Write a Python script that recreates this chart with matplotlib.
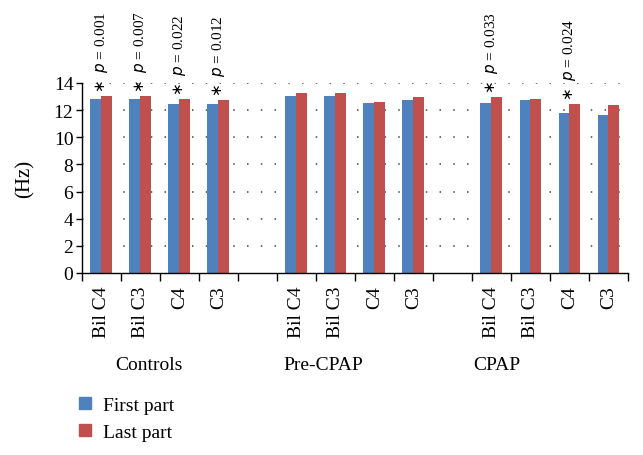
import matplotlib
matplotlib.use("Agg")
import matplotlib.pyplot as plt
from matplotlib.lines import Line2D
import matplotlib.transforms as mtransforms

plt.rcParams['font.family'] = ['Liberation Serif', 'DejaVu Serif']

groups = ["Controls", "Pre-CPAP", "CPAP"]
channels = ["Bil C4", "Bil C3", "C4", "C3"]
first_part = [12.85, 12.85, 12.45, 12.45,
              13.07, 13.07, 12.5, 12.75,
              12.55, 12.75, 11.8, 11.65]
last_part = [13.05, 13.05, 12.8, 12.75,
             13.25, 13.25, 12.6, 13.0,
             12.95, 12.8, 12.45, 12.35]
p_labels = ["0.001", "0.007", "0.022", "0.012",
            None, None, None, None,
            "0.033", None, "0.024", None]
yticks = [0, 2, 4, 6, 8, 10, 12, 14]

blue = "#4F81BD"
red = "#C0504D"

fig = plt.figure(figsize=(6.43, 4.56), dpi=100)
ax = fig.add_axes([81.7/643, 1-274/456, (628-81.7)/643, (274-84)/456])

# slot positions (one empty slot between groups)
pos = []
labels = []
for g in range(len(groups)):
    for c in range(len(channels)):
        pos.append(g * (len(channels) + 1) + c)
        labels.append(channels[c])
nslots = len(groups) * (len(channels) + 1) - 1

# dotted gridlines (not at zero)
for yv in yticks[1:]:
    ax.axhline(yv, linestyle=(0, (1, 8)), color='#444444', linewidth=1.1, zorder=0)

w = 0.28
ax.bar([p - w/2 for p in pos], first_part, width=w, color=blue, zorder=3)
ax.bar([p + w/2 for p in pos], last_part, width=w, color=red, zorder=3)

for p, v1, v2, lab in zip(pos, first_part, last_part, p_labels):
    if lab is None:
        continue
    ax.text(p, max(v1, v2) + 0.3, "$\\ast$  $\\mathit{p}$ = " + lab,
            rotation=90, ha='center', va='bottom', fontsize=11, clip_on=False)

ax.set_xlim(-0.5, nslots - 0.5)
ax.set_ylim(0, 14)
ax.set_yticks(yticks)
ax.tick_params(axis='y', labelsize=14, length=4, pad=2, direction='out', width=1)

ax.set_xticks(pos)
ax.set_xticklabels(labels, rotation=90, fontsize=14, va='top')
ax.tick_params(axis='x', which='major', length=0, pad=9)
ax.set_xticks([i - 0.5 for i in range(nslots + 1)], minor=True)
ax.tick_params(axis='x', which='minor', length=6, width=1, direction='out')

for s in ['top', 'right']:
    ax.spines[s].set_visible(False)
for s in ['left', 'bottom']:
    ax.spines[s].set_color('black')
    ax.spines[s].set_linewidth(1)
    ax.spines[s].set_zorder(4)

ax.set_ylabel("(Hz)", fontsize=15, labelpad=14)

trans = mtransforms.blended_transform_factory(ax.transData, ax.transAxes)
group_x = [1.23, 5.69, 10.13]
for gx, g in zip(group_x, groups):
    ax.text(gx, -0.479, g, transform=trans, ha='center', va='center', fontsize=14)

handles = [Line2D([], [], marker='s', linestyle='none', color=blue, markersize=8),
           Line2D([], [], marker='s', linestyle='none', color=red, markersize=8)]
fig.legend(handles, ["First part", "Last part"], loc='upper left',
           bbox_to_anchor=(0.105, 0.145), frameon=False, fontsize=14,
           handletextpad=0.4, labelspacing=0.45, handlelength=1.0, borderaxespad=0)

fig.savefig("out.png", dpi=100)
